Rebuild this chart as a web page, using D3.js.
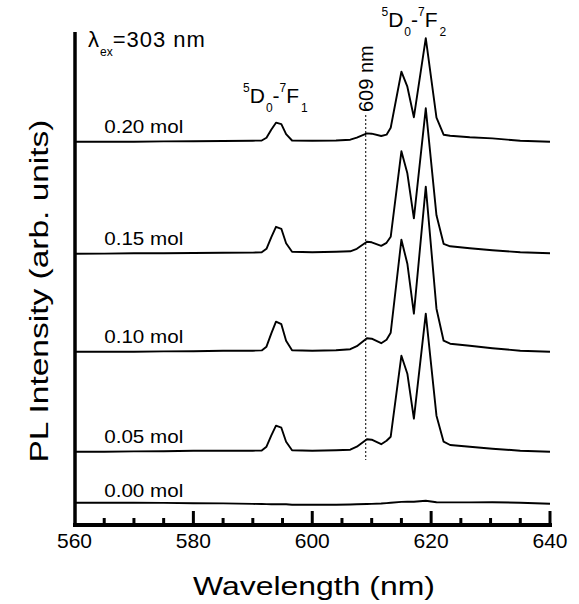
<!DOCTYPE html>
<html>
<head>
<meta charset="utf-8">
<script src="https://cdn.jsdelivr.net/npm/d3@7"></script>
<style>
  body { margin: 0; background: #fff; }
  text { font-family: "Liberation Sans", Arial, sans-serif; fill: #000; }
</style>
</head>
<body>
<svg id="chart"></svg>
<script>
// PL spectra, offset stacked
const wavelengths = [560, 565, 570, 575, 580, 585, 590, 591.5, 592.3, 593.1, 593.9, 594.8, 595.6, 596.6, 600, 604, 606.4, 607.5, 609.2, 610, 611.6, 612.5, 613.2, 615, 616, 617.1, 619.1, 620.9, 622.1, 623.2, 626.5, 630.3, 635, 640];

const labels  = ['0.00 mol', '0.05 mol', '0.10 mol', '0.15 mol', '0.20 mol'];
const offsets = [22.3, 73.3, 173.3, 271.7, 383.3];

const pl000 = [0, 0, 0, -0.2, -0.5, -0.7, -1.2, -1.3, -1.4, -1.5, -1.5, -1.6, -1.6, -2, -2, -2, -1.8, -1.6, -1.3, -1.2, -0.8, -0.4, 0, 0.8, 0.9, 1, 2, 0.5, 0.3, 0.3, 0.3, 0.5, 0, -1];
const pl005 = [0, 0, 0.3, 0.5, 1, 1, 1, 1.2, 5, 16, 26, 24, 10, 1.5, 1, 1.5, 2, 5, 12.5, 12, 7.5, 11, 15, 96, 78, 33, 138, 36, 10, 6.7, 5, 3, 1, 0];
const pl010 = [0, 0, 0, 0.3, 0.5, 1, 1, 1.3, 5, 18, 30, 27.5, 11, 1.5, 1, 1.5, 2.5, 5.5, 13.5, 13, 8.5, 12, 19, 112, 88, 38, 165, 43, 11, 8, 6, 3.5, 1, 0];
const pl015 = [-0.5, -0.3, 0, 0, 0.3, 0.5, 0.7, 1, 4.5, 16, 26.5, 24.5, 10, 1.5, 1, 1.5, 2, 4.5, 11.5, 11, 7.5, 10.5, 16.5, 102, 80, 35, 145, 38, 9.5, 7, 5, 3, 1, 0];
const pl020 = [0, 0, 0, 0.3, 0.5, 0.7, 1, 1.2, 4, 12, 19, 17.5, 7.5, 1.2, 1, 1.2, 2, 4, 8.3, 8, 5.7, 7, 14, 70, 55, 24.5, 103.5, 24, 7, 6, 4.5, 3.3, 1, 0];
const spectra = [pl000, pl005, pl010, pl015, pl020];

const majorTicks = [560, 580, 600, 620, 640];
const minorTicks = d3.range(565, 640, 5).filter(v => v % 20 !== 0);

const W = 579, H = 604;
const svg = d3.select('#chart').attr('width', W).attr('height', H);

const x = d3.scaleLinear().domain([560, 640]).range([74.5, 550]);
const y = d3.scaleLinear().domain([0, 490]).range([525, 35]);

// 曲線
const line = d3.line().x(d => x(d[0])).y(d => y(d[1]));
spectra.forEach((vals, i) => {
  const pts = wavelengths.map((w, j) => [w, offsets[i] + vals[j]]);
  svg.append('path')
    .attr('d', line(pts))
    .attr('fill', 'none')
    .attr('stroke', '#000')
    .attr('stroke-width', 1.9)
    .attr('stroke-linejoin', 'round');

  svg.append('text')
    .attr('x', x(565))
    .attr('y', y(offsets[i] + (i === 0 ? 6 : 8.5)))
    .attr('font-size', 18)
    .attr('textLength', 79)
    .attr('lengthAdjust', 'spacingAndGlyphs')
    .text(labels[i]);
});

// 609 nm 虛線
svg.append('line')
  .attr('x1', x(609)).attr('x2', x(609))
  .attr('y1', 115).attr('y2', 460)
  .attr('stroke', '#000').attr('stroke-width', 1)
  .attr('stroke-dasharray', '2,2');

svg.append('text')
  .attr('transform', `translate(${x(609) + 7},112) rotate(-90)`)
  .attr('font-size', 20)
  .text('609 nm');

// 軸
svg.append('line')
  .attr('x1', 75).attr('x2', 75).attr('y1', 32).attr('y2', 527)
  .attr('stroke', '#000').attr('stroke-width', 3.5);
svg.append('line')
  .attr('x1', 73).attr('x2', 552).attr('y1', 525).attr('y2', 525)
  .attr('stroke', '#000').attr('stroke-width', 4);

svg.selectAll('.major').data(majorTicks.slice(1)).join('line')
  .attr('x1', d => x(d)).attr('x2', d => x(d))
  .attr('y1', 525).attr('y2', 511)
  .attr('stroke', '#000').attr('stroke-width', 3);
svg.selectAll('.minor').data(minorTicks).join('line')
  .attr('x1', d => x(d)).attr('x2', d => x(d))
  .attr('y1', 525).attr('y2', 518)
  .attr('stroke', '#000').attr('stroke-width', 3);

svg.selectAll('.tick-label').data(majorTicks).join('text')
  .attr('x', d => x(d)).attr('y', 548)
  .attr('text-anchor', 'middle')
  .attr('font-size', 21)
  .text(d => d);

svg.append('text')
  .attr('x', 314).attr('y', 595)
  .attr('text-anchor', 'middle')
  .attr('font-size', 26)
  .attr('textLength', 242)
  .attr('lengthAdjust', 'spacingAndGlyphs')
  .text('Wavelength (nm)');

svg.append('text')
  .attr('transform', 'translate(48,291) rotate(-90)')
  .attr('text-anchor', 'middle')
  .attr('font-size', 26)
  .attr('textLength', 343)
  .attr('lengthAdjust', 'spacingAndGlyphs')
  .text('PL Intensity (arb. units)');

// λex
const lam = svg.append('text').attr('x', 88).attr('y', 47).attr('font-size', 22);
lam.append('tspan').text('λ');
lam.append('tspan').attr('font-size', 12).attr('dy', 9).attr('dx', 1).text('ex');
lam.append('tspan').attr('dy', -9).attr('letter-spacing', 1).text('=303 nm');

// 躍遷標註
function transition(cx, by, last) {
  const t = svg.append('text').attr('x', cx).attr('y', by)
    .attr('text-anchor', 'middle').attr('font-size', 21);
  t.append('tspan').attr('font-size', 12).attr('dy', -11).text('5');
  t.append('tspan').attr('dy', 11).text('D');
  t.append('tspan').attr('font-size', 12).attr('dy', 9).attr('dx', 1).text('0');
  t.append('tspan').attr('dy', -9).text('-');
  t.append('tspan').attr('font-size', 12).attr('dy', -11).text('7');
  t.append('tspan').attr('dy', 11).text('F');
  t.append('tspan').attr('font-size', 12).attr('dy', 9).attr('dx', 2).text(last);
}
transition(x(593.8), 103, '1');
transition(x(617.1), 27, '2');
</script>
</body>
</html>
